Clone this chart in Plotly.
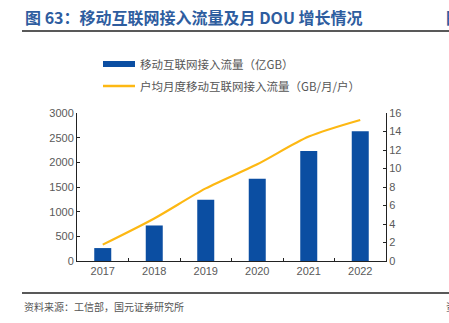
import plotly.graph_objects as go

years = ["2017", "2018", "2019", "2020", "2021", "2022"]
traffic = [262, 720, 1240, 1665, 2230, 2630]          # 亿GB
dou = [1.77, 4.6, 7.85, 10.45, 13.45, 15.25]          # GB/月/户
left_ticks = [0, 500, 1000, 1500, 2000, 2500, 3000]
right_ticks = [0, 2, 4, 6, 8, 10, 12, 14, 16]

W, H = 449, 323
L, R, T, B = 77, 386, 113, 261

def px(x):
    return (x - L) / (R - L)

def py(y):
    return (B - y) / (B - T)

BLUE = "#0B4EA2"
GOLD = "#FDB813"
NUM_FONT = "Liberation Sans, Arial, sans-serif"
CJK_FONT = "Noto Sans CJK SC, sans-serif"

fig = go.Figure()
fig.add_trace(go.Bar(x=years, y=traffic, marker=dict(color=BLUE, line=dict(width=0)),
                     name="移动互联网接入流量（亿GB）", yaxis="y", showlegend=False))
fig.add_trace(go.Scatter(x=years, y=dou, mode="lines", line=dict(color=GOLD, width=2.2, shape="spline", smoothing=0.8),
                         name="户均月度移动互联网接入流量（GB/月/户）", yaxis="y2", showlegend=False))

fig.update_layout(
    width=W, height=H,
    margin=dict(l=L, r=W - R, t=T, b=H - B),
    paper_bgcolor="white", plot_bgcolor="white",
    bargap=0.67,
    font=dict(family=NUM_FONT, size=11, color="#595959"),
    xaxis=dict(showline=True, linecolor="#222", linewidth=1, ticks="inside", ticklen=3,
               tickcolor="#222", tickson="boundaries", showgrid=False,
               tickfont=dict(size=11, color="#595959")),
    yaxis=dict(range=[0, 3000], tickvals=left_ticks, showline=True, linecolor="#222", linewidth=1,
               ticks="inside", ticklen=3, tickcolor="#222", showgrid=False, zeroline=False,
               tickfont=dict(size=11, color="#595959")),
    yaxis2=dict(range=[0, 16], tickvals=right_ticks, overlaying="y", side="right", showline=True,
                linecolor="#222", linewidth=1, ticks="inside", ticklen=3, tickcolor="#222",
                showgrid=False, zeroline=False, tickfont=dict(size=11, color="#595959")),
)

# Title
fig.add_annotation(xref="paper", yref="paper", x=px(23), y=py(17), xanchor="left", yanchor="middle",
                   text="<b>图 63：移动互联网接入流量及月 DOU 增长情况</b>", showarrow=False,
                   font=dict(family=CJK_FONT, size=16, color="#2E5D9F"))
fig.add_annotation(xref="paper", yref="paper", x=px(444), y=py(17), xanchor="left", yanchor="middle",
                   text="<b>图</b>", showarrow=False,
                   font=dict(family=CJK_FONT, size=16, color="#2E5D9F"))
# Rules
fig.add_shape(type="line", xref="paper", yref="paper", x0=px(22), x1=px(449), y0=py(31), y1=py(31),
              line=dict(color="#222", width=1.5))
fig.add_shape(type="line", xref="paper", yref="paper", x0=px(22), x1=px(449), y0=py(293), y1=py(293),
              line=dict(color="#222", width=1.5))
# Source
fig.add_annotation(xref="paper", yref="paper", x=px(22), y=py(306), xanchor="left", yanchor="middle",
                   text="资料来源：工信部，国元证券研究所", showarrow=False,
                   font=dict(family=CJK_FONT, size=10, color="#555"))
fig.add_annotation(xref="paper", yref="paper", x=px(444), y=py(306), xanchor="left", yanchor="middle",
                   text="资", showarrow=False,
                   font=dict(family=CJK_FONT, size=10, color="#555"))

# Legend (manual)
fig.add_shape(type="rect", xref="paper", yref="paper", x0=px(103), x1=px(135), y0=py(61), y1=py(67),
              fillcolor=BLUE, line=dict(width=0))
fig.add_annotation(xref="paper", yref="paper", x=px(138), y=py(64), xanchor="left", yanchor="middle",
                   text="移动互联网接入流量（亿GB）", showarrow=False,
                   font=dict(family=CJK_FONT, size=11.5, color="#555"))
fig.add_shape(type="line", xref="paper", yref="paper", x0=px(103), x1=px(135), y0=py(86), y1=py(86),
              line=dict(color=GOLD, width=2.5))
fig.add_annotation(xref="paper", yref="paper", x=px(138), y=py(86), xanchor="left", yanchor="middle",
                   text="户均月度移动互联网接入流量（GB/月/户）", showarrow=False,
                   font=dict(family=CJK_FONT, size=11.5, color="#555"))

fig.write_html("out.html")
